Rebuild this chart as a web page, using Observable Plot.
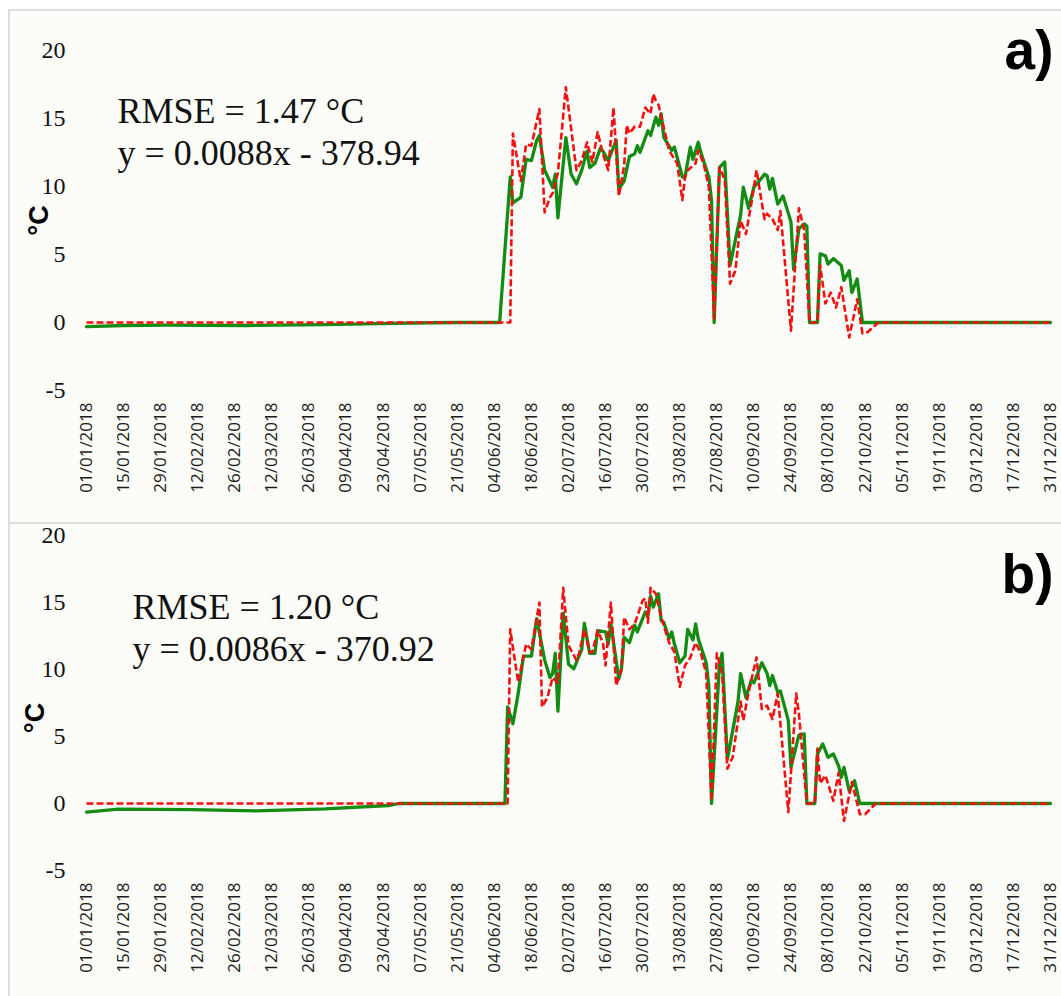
<!DOCTYPE html>
<html>
<head>
<meta charset="utf-8">
<script src="https://cdn.jsdelivr.net/npm/d3@7"></script>
<script src="https://cdn.jsdelivr.net/npm/@observablehq/plot@0.6"></script>
<style>
  html, body { margin: 0; padding: 0; background: #ffffff; }
  .panel {
    position: absolute;
    left: 8px;
    width: 1051px;
    background: #fcfcf8;
    border-left: 2px solid #dedede;
    border-top: 2px solid #dedede;
  }
  #panel-a { top: 9px; height: 511px; }
  #panel-b { top: 522px; height: 474px; }
  .panel svg { display: block; background: transparent; overflow: visible; }
</style>
</head>
<body>
<div id="panel-a" class="panel"></div>
<div id="panel-b" class="panel"></div>
<script>
// Daily water temperature, 2018. Points are [days since 1 January 2018, °C].
// Solid green: measured series; dashed red: modelled series.

const measuredA = [[0,-0.3],[14,-0.22],[30,-0.2],[60,-0.22],[90,-0.15],[110,-0.08],[130,-0.02],[140,0],[156,0],
  [160,10.7],[161,8.8],[164,9.2],[166,12.0],[168,11.9],[170,13.4],[171,13.75],[173,11.2],[176,9.95],[177,10.9],
  [178,7.7],[181,13.6],[183,10.9],[185,10.2],[187,11.2],[189,12.6],[190,11.4],[192,11.7],[194,12.8],[195,12.6],
  [197,11.9],[200,13.4],[201,9.8],[203,10.4],[205,12.2],[207,12.4],[208,13.0],[209,12.5],[212,14.1],[213,13.75],
  [215,15.1],[216,14.5],[217,15.35],[218,13.6],[221,12.65],[222,12.9],[225,10.7],[226,10.7],[228,12.9],[229,12.0],
  [231,13.25],[232,12.5],[235,10.7],[236,9.0],[237,0],[239,11.4],[241,11.8],[243,4.2],[246,7.0],[247,7.9],
  [248,9.95],[250,8.4],[252,9.95],[254,10.4],[256,10.9],[257,10.8],[258,9.8],[259,10.6],[261,8.7],[263,9.3],
  [266,7.4],[267,3.9],[269,6.9],[271,7.25],[272,7.1],[273,0],[276,0],[277,5.05],[279,4.9],[280,4.3],[282,4.7],
  [285,4.2],[286,3.1],[288,3.8],[289,2.2],[291,3.2],[293,0],[364,0]];

const modelledA = [[0,0],[160,0],[161,13.9],[164,10.4],[166,13.1],[168,13.0],[171,15.7],[173,8.1],[175,9.2],
  [176,9.5],[178,11.0],[181,17.3],[185,11.2],[187,11.9],[189,13.25],[191,11.8],[193,14.0],[195,12.4],[197,11.2],
  [199,15.8],[201,9.3],[203,11.5],[204,14.5],[205,13.9],[207,14.4],[209,14.4],[211,15.8],[213,15.35],[214,16.8],
  [215,16.3],[216,16.0],[220,12.65],[223,11.7],[225,9.0],[226,10.7],[227,11.2],[230,11.7],[231,12.65],[233,11.7],
  [235,9.95],[237,0.3],[239,11.4],[241,10.5],[243,2.85],[245,3.8],[247,7.5],[249,6.5],[251,8.7],[253,11.2],
  [256,7.6],[257,8.0],[259,7.6],[261,6.8],[262,8.2],[266,-0.6],[269,8.4],[271,6.8],[273,0],[276,0],[277,4.2],
  [279,1.4],[281,2.2],[283,1.1],[285,2.6],[288,-1.1],[291,1.7],[293,-0.8],[295,-0.7],[299,0],[364,0]];

const measuredB = [[0,-0.65],[12,-0.42],[40,-0.45],[64,-0.55],[90,-0.4],[114,-0.15],[118,0],[158,0],[159,7.2],
  [161,5.95],[163,8.2],[165,11.0],[168,11.0],[170,13.8],[173,10.7],[175,9.4],[176,9.7],[177,11.2],[178,6.9],
  [180,14.2],[182,10.4],[184,10.05],[187,11.5],[188,13.45],[190,11.2],[192,11.2],[193,12.9],[196,12.8],[197,11.9],
  [198,13.4],[201,9.3],[202,10.05],[203,12.4],[205,12.0],[207,13.3],[208,12.8],[211,14.3],[212,14.0],[213,15.5],
  [214,14.65],[216,15.65],[217,13.65],[218,13.5],[220,12.3],[221,12.8],[222,11.9],[224,10.5],[226,11.0],[227,13.0],
  [229,12.2],[230,13.4],[231,12.3],[234,10.5],[235,8.7],[236,0],[239,10.4],[240,11.2],[242,3.3],[246,7.6],
  [247,9.7],[249,7.9],[251,9.2],[252,9.0],[255,10.5],[257,9.7],[258,8.8],[259,9.55],[261,8.3],[262,8.4],
  [265,6.2],[266,2.7],[269,5.1],[271,5.2],[272,0],[275,0],[276,3.7],[278,4.45],[280,3.45],[282,3.7],[284,2.8],
  [285,1.95],[286,2.7],[288,0.95],[290,1.7],[292,0],[364,0]];

const modelledB = [[0,0],[159,0],[160,13.0],[163,9.05],[166,11.9],[168,11.5],[171,15.0],[172,7.2],[174,7.9],
  [176,9.4],[178,9.0],[180,16.1],[182,11.8],[185,10.7],[186,11.2],[188,13.0],[190,11.3],[191,11.3],[193,12.9],
  [195,12.0],[196,10.3],[198,15.0],[200,8.8],[202,10.0],[203,13.9],[205,13.0],[207,13.4],[210,15.15],[211,15.3],
  [212,13.5],[213,16.1],[215,15.65],[217,13.9],[220,12.0],[222,11.3],[224,8.7],[226,10.3],[228,10.9],[230,12.0],
  [232,11.2],[234,9.7],[236,0.2],[238,11.2],[240,9.7],[242,2.6],[244,3.45],[247,7.6],[248,6.2],[250,8.3],
  [253,10.9],[255,7.05],[257,7.3],[259,6.3],[261,8.2],[265,-0.65],[268,8.2],[269,6.7],[272,0],[275,0],[276,4.1],
  [277,1.5],[279,2.1],[282,0.2],[284,2.3],[286,-1.3],[289,1.6],[292,-0.8],[294,-0.8],[298,0],[364,0]];

// Axis ticks
const xTickLabels = ["01/01/2018","15/01/2018","29/01/2018","12/02/2018","26/02/2018","12/03/2018","26/03/2018",
  "09/04/2018","23/04/2018","07/05/2018","21/05/2018","04/06/2018","18/06/2018","02/07/2018","16/07/2018",
  "30/07/2018","13/08/2018","27/08/2018","10/09/2018","24/09/2018","08/10/2018","22/10/2018","05/11/2018",
  "19/11/2018","03/12/2018","17/12/2018","31/12/2018"];
const yTicks = [-5, 0, 5, 10, 15, 20];

// Panel annotations
const statsA = ["RMSE = 1.47 °C", "y = 0.0088x - 378.94"];
const statsB = ["RMSE = 1.20 °C", "y = 0.0086x - 370.92"];
const panelTags = ["a)", "b)"];
const unitLabel = "°C";

const GREEN = "#128c12";
const RED = "#f21010";

const parseTick = d3.utcParse("%d/%m/%Y");
const formatTick = d3.utcFormat("%d/%m/%Y");
const yearStart = parseTick(xTickLabels[0]);
const yearEnd = parseTick(xTickLabels[xTickLabels.length - 1]);
const dayDate = (n) => d3.utcDay.offset(yearStart, n);

function panel({measured, modelled, stats, tag, height, marginTop, marginBottom, statsDx, statsDy, tagDy, unitDx, unitDy}) {
  return Plot.plot({
    width: 1051,
    height,
    marginLeft: 76,
    marginRight: 11,
    marginTop,
    marginBottom,
    style: {background: "transparent", overflow: "visible"},
    x: {type: "utc", domain: [yearStart, yearEnd]},
    y: {domain: [-5, 20]},
    marks: [
      Plot.axisY({
        ticks: yTicks, tickFormat: d => String(d), tickSize: 0, tickPadding: 21, label: null,
        fontSize: 24, fontFamily: "Liberation Serif", fill: "#111"
      }),
      Plot.axisX({
        ticks: xTickLabels.map(parseTick), tickFormat: formatTick, tickRotate: -90,
        tickSize: 0, tickPadding: 12, label: null,
        fontSize: 17, fontFamily: "Open Sans", fill: "#1a1a1a"
      }),
      Plot.line(measured, {
        x: d => dayDate(d[0]), y: d => d[1],
        stroke: GREEN, strokeWidth: 3.3
      }),
      Plot.line(modelled, {
        x: d => dayDate(d[0]), y: d => d[1],
        stroke: RED, strokeWidth: 2.6, strokeDasharray: "7,3", strokeLinecap: "butt"
      }),
      ...stats.map((s, i) => Plot.text([s], {
        frameAnchor: "top-left", text: d => d, textAnchor: "start", lineAnchor: "bottom",
        dx: statsDx, dy: statsDy + i * 42, fontSize: 36, fontFamily: "Liberation Serif", fill: "#111"
      })),
      Plot.text([tag], {
        frameAnchor: "top-right", text: d => d, textAnchor: "end", lineAnchor: "bottom",
        dx: 3, dy: tagDy, fontSize: 55, fontWeight: "bold", fontFamily: "Liberation Sans", fill: "#000"
      }),
      Plot.text([unitLabel], {
        frameAnchor: "left", text: d => d, textAnchor: "middle", lineAnchor: "middle", rotate: -90,
        dx: unitDx, dy: unitDy, fontSize: 27, fontWeight: "bold", fontFamily: "Liberation Sans", fill: "#000"
      })
    ]
  });
}

document.getElementById("panel-a").appendChild(panel({
  measured: measuredA, modelled: modelledA, stats: statsA, tag: panelTags[0],
  height: 511, marginTop: 39, marginBottom: 132,
  statsDx: 31, statsDy: 72, tagDy: 18, unitDx: -47, unitDy: 0
}));

document.getElementById("panel-b").appendChild(panel({
  measured: measuredB, modelled: modelledB, stats: statsB, tag: panelTags[1],
  height: 472, marginTop: 11, marginBottom: 126,
  statsDx: 46, statsDy: 83, tagDy: 57, unitDx: -51, unitDy: 15
}));
</script>
</body>
</html>
